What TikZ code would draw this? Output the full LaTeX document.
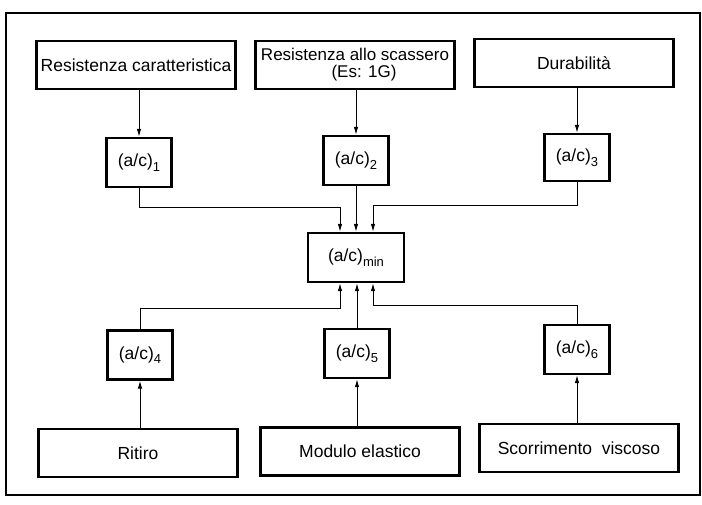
\documentclass[tikz,border=0pt]{standalone}
\usepackage{fontspec}
\setmainfont{Liberation Sans}
\usetikzlibrary{arrows.meta}
\newcommand{\ped}[1]{\raisebox{-0.5ex}{\fontsize{13}{13}\selectfont #1}}

\begin{document}
\begin{tikzpicture}[x=1pt, y=-1pt,
  requisito/.style={draw, rectangle, line width=2.2pt, minimum width=199pt, minimum height=48pt, inner sep=0pt, font=\fontsize{17.5}{19}\selectfont},
  rapporto/.style={draw, rectangle, line width=2.2pt, minimum width=65pt, minimum height=49pt, inner sep=0pt, font=\fontsize{17.5}{19}\selectfont},
  freccia/.style={-{Latex[length=8pt,width=4.5pt]}, line width=1pt}]
\useasboundingbox (0,0) rectangle (702,505);
\draw[line width=1.2pt] (6,13) rectangle (700,495);

% Requisiti
\node[requisito] (rescar) at (136,65) {Resistenza caratteristica};
\node[requisito, align=center, font=\fontsize{17}{17}\selectfont] (resscas) at (355,65) {Resistenza allo scassero\\\hspace*{18pt}(Es: 1G)};
\node[requisito] (dur) at (574,63) {Durabilità};
\node[requisito] (rit) at (138,453) {Ritiro};
\node[requisito] (mod) at (360,451.5) {Modulo elastico};
\node[requisito] (sco) at (579,448) {Scorrimento~ viscoso};

% Rapporti a/c
\node[rapporto] (ac1) at (139,162.5) {(a/c)\ped{1}};
\node[rapporto] (ac2) at (356,160.5) {(a/c)\ped{2}};
\node[rapporto, minimum height=47pt] (ac3) at (577,157.5) {(a/c)\ped{3}};
\node[rapporto, minimum width=96pt] (acmin) at (356,257.5) {(a/c)\ped{min}};
\node[rapporto] (ac4) at (140,355) {(a/c)\ped{4}};
\node[rapporto] (ac5) at (357,353.5) {(a/c)\ped{5}};
\node[rapporto] (ac6) at (577,349.5) {(a/c)\ped{6}};

% Punti di raccordo
\coordinate (g1) at (340,208);
\coordinate (g3) at (373,206);
\coordinate (g4) at (340,309);
\coordinate (g6) at (373,306);

% Collegamenti
\draw[freccia] (rescar.south -| ac1) -- (ac1);
\draw[freccia] (resscas.south -| ac2) -- (ac2);
\draw[freccia] (dur.south -| ac3) -- (ac3);
\draw[freccia] (rit.north -| ac4) -- (ac4);
\draw[freccia] (mod.north -| ac5) -- (ac5);
\draw[freccia] (sco.north -| ac6) -- (ac6);

\draw[freccia] (ac1.south) |- (g1) -- (g1 |- acmin.north);
\draw[freccia] (ac2) -- (acmin);
\draw[freccia] (ac3.south) |- (g3) -- (g3 |- acmin.north);
\draw[freccia] (ac4.north) |- (g4) -- (g4 |- acmin.south);
\draw[freccia] (ac5.north) -- (ac5.north |- acmin.south);
\draw[freccia] (ac6.north) |- (g6) -- (g6 |- acmin.south);

\end{tikzpicture}
\end{document}
